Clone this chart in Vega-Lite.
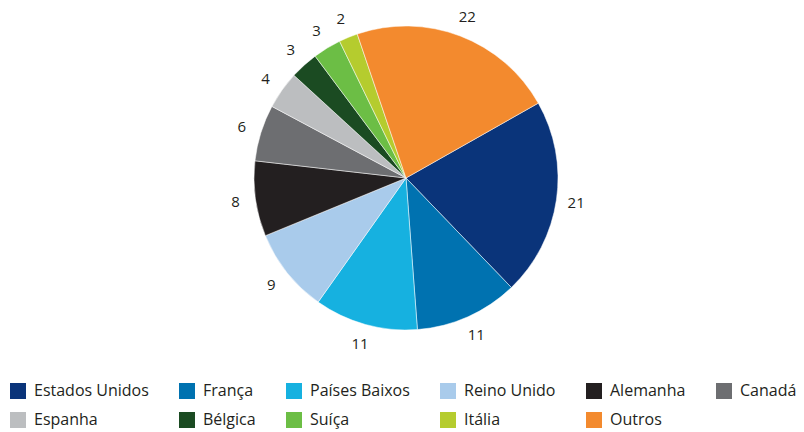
{
  "$schema": "https://vega.github.io/schema/vega-lite/v6.json",
  "width": 812,
  "height": 356,
  "padding": {"left": 0, "top": 0, "right": 0, "bottom": 12},
  "autosize": {"type": "pad"},
  "background": "white",
  "config": {"view": {"stroke": null}, "font": "Open Sans"},
  "data": {"values": [
    {"pais": "Estados Unidos", "valor": 21, "ordem": 1},
    {"pais": "França", "valor": 11, "ordem": 2},
    {"pais": "Países Baixos", "valor": 11, "ordem": 3},
    {"pais": "Reino Unido", "valor": 9, "ordem": 4},
    {"pais": "Alemanha", "valor": 8, "ordem": 5},
    {"pais": "Canadá", "valor": 6, "ordem": 6},
    {"pais": "Espanha", "valor": 4, "ordem": 7},
    {"pais": "Bélgica", "valor": 3, "ordem": 8},
    {"pais": "Suíça", "valor": 3, "ordem": 9},
    {"pais": "Itália", "valor": 2, "ordem": 10},
    {"pais": "Outros", "valor": 22, "ordem": 11}
  ]},
  "encoding": {
    "theta": {"field": "valor", "type": "quantitative", "stack": true, "scale": {"range": [1.056, 7.339]}},
    "order": {"field": "ordem", "type": "quantitative"}
  },
  "layer": [
    {
      "mark": {"type": "arc", "outerRadius": 152, "stroke": "white", "strokeWidth": 0.5},
      "encoding": {
        "color": {
          "field": "pais", "type": "nominal",
          "scale": {
            "domain": ["Estados Unidos", "França", "Países Baixos", "Reino Unido", "Alemanha", "Canadá", "Espanha", "Bélgica", "Suíça", "Itália", "Outros"],
            "range": ["#0a347a", "#0072b0", "#16b1e0", "#a9cbeb", "#231f20", "#6d6e71", "#bcbec0", "#1b4b22", "#6cbe45", "#b5cc2e", "#f38a2e"]
          },
          "legend": {
            "title": null,
            "orient": "none",
            "legendX": 10,
            "legendY": 383,
            "direction": "horizontal",
            "columns": 6,
            "symbolType": "square",
            "symbolSize": 256,
            "symbolStrokeWidth": 0,
            "labelFontSize": 16,
            "labelColor": "#231f20",
            "labelOffset": 8,
            "columnPadding": 30,
            "rowPadding": 13,
            "labelLimit": 300
          }
        }
      }
    },
    {
      "mark": {"type": "text", "radius": 172, "fontSize": 15, "color": "#231f20", "baseline": "middle", "align": "center"},
      "encoding": {"text": {"field": "valor", "type": "quantitative"}}
    }
  ]
}
